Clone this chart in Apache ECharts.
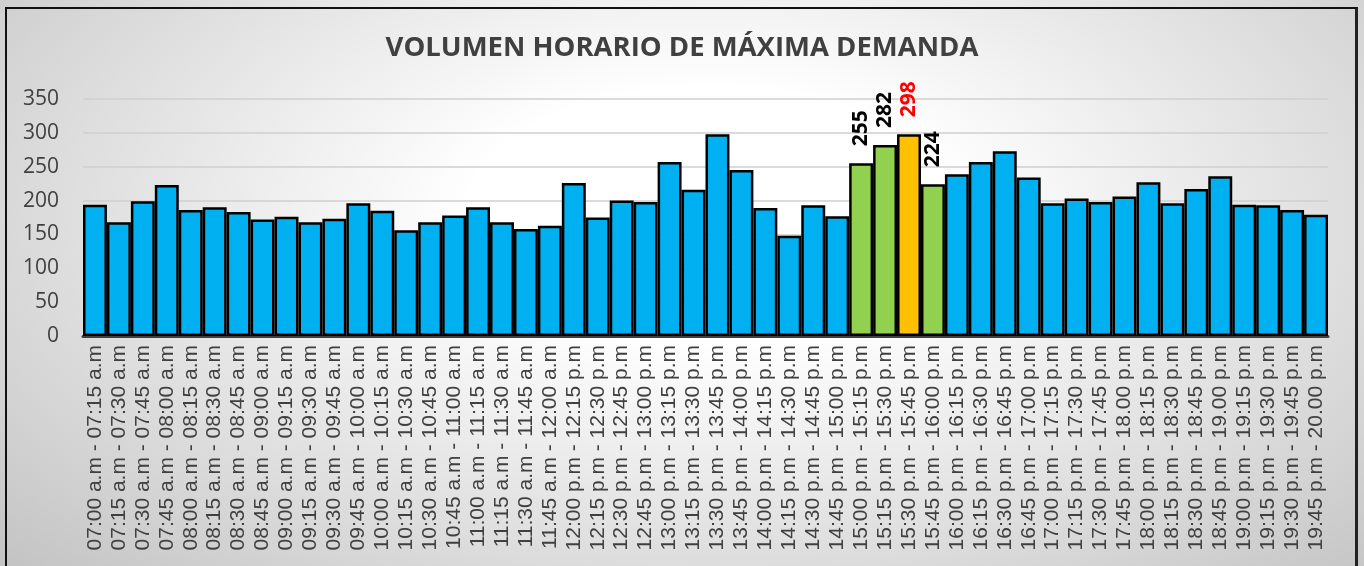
<!DOCTYPE html>
<html>
<head>
<meta charset="utf-8">
<script src="https://cdn.jsdelivr.net/npm/echarts@6/dist/echarts.min.js"></script>
<style>
  html, body { margin: 0; padding: 0; }
  body {
    width: 1364px; height: 566px; overflow: hidden;
    background: radial-gradient(ellipse 70% 90% at 52% 38%, #ffffff 25%, #c4c4c4 100%);
  }
  #frame {
    position: absolute; left: 5px; top: 7px; width: 1348px; height: 600px;
    border: 2px solid #111; border-right: 3px solid #222;
  }
  #main { position: absolute; left: 0; top: 0; width: 1364px; height: 566px; }
</style>
</head>
<body>
<div id="frame"></div>
<div id="main"></div>
<script>
// intervalos de 15 min
var categories = [
  '07:00 a.m - 07:15 a.m', '07:15 a.m - 07:30 a.m', '07:30 a.m - 07:45 a.m', '07:45 a.m - 08:00 a.m',
  '08:00 a.m - 08:15 a.m', '08:15 a.m - 08:30 a.m', '08:30 a.m - 08:45 a.m', '08:45 a.m - 09:00 a.m',
  '09:00 a.m - 09:15 a.m', '09:15 a.m - 09:30 a.m', '09:30 a.m - 09:45 a.m', '09:45 a.m - 10:00 a.m',
  '10:00 a.m - 10:15 a.m', '10:15 a.m - 10:30 a.m', '10:30 a.m - 10:45 a.m', '10:45 a.m - 11:00 a.m',
  '11:00 a.m - 11:15 a.m', '11:15 a.m - 11:30 a.m', '11:30 a.m - 11:45 a.m', '11:45 a.m - 12:00 a.m',
  '12:00 p.m - 12:15 p.m', '12:15 p.m - 12:30 p.m', '12:30 p.m - 12:45 p.m', '12:45 p.m - 13:00 p.m',
  '13:00 p.m - 13:15 p.m', '13:15 p.m - 13:30 p.m', '13:30 p.m - 13:45 p.m', '13:45 p.m - 14:00 p.m',
  '14:00 p.m - 14:15 p.m', '14:15 p.m - 14:30 p.m', '14:30 p.m - 14:45 p.m', '14:45 p.m - 15:00 p.m',
  '15:00 p.m - 15:15 p.m', '15:15 p.m - 15:30 p.m', '15:30 p.m - 15:45 p.m', '15:45 p.m - 16:00 p.m',
  '16:00 p.m - 16:15 p.m', '16:15 p.m - 16:30 p.m', '16:30 p.m - 16:45 p.m', '16:45 p.m - 17:00 p.m',
  '17:00 p.m - 17:15 p.m', '17:15 p.m - 17:30 p.m', '17:30 p.m - 17:45 p.m', '17:45 p.m - 18.00 p.m',
  '18:00 p.m - 18:15 p.m', '18:15 p.m - 18:30 p.m', '18:30 p.m - 18:45 p.m', '18:45 p.m - 19.00 p.m',
  '19:00 p.m - 19:15 p.m', '19:15 p.m - 19:30 p.m', '19:30 p.m - 19:45 p.m', '19:45 p.m - 20.00 p.m'
]
var volumes = [
  194, 168, 199, 223, 186, 190, 183, 172, 176, 168, 173, 196, 185, 156, 168, 178,
  190, 168, 158, 163, 226, 175, 200, 198, 257, 216, 298, 245, 189, 148, 193, 177,
  255, 282, 298, 224, 239, 257, 273, 234, 196, 203, 198, 206, 227, 196, 217, 236,
  194, 193, 186, 179
]
// hora de maxima demanda (4 intervalos) y el pico
var hmdIdx = [32, 33, 34, 35]
var peakIdx = 34
var yTicks = [0, 50, 100, 150, 200, 250, 300, 350]

var data = volumes.map(function (v, i) {
  var item = { value: v }
  if (hmdIdx.indexOf(i) >= 0) {
    item.itemStyle = { color: i === peakIdx ? '#FFC000' : '#92D050' }
    item.label = {
      show: true,
      color: i === peakIdx ? '#FF0000' : '#000000'
    }
  }
  return item
})

var chart = echarts.init(document.getElementById('main'))
chart.setOption({
  backgroundColor: 'transparent',
  animation: false,
  title: {
    text: 'VOLUMEN HORARIO DE MÁXIMA DEMANDA',
    left: 'center',
    top: 29,
    textStyle: {
      fontFamily: 'Open Sans',
      fontWeight: 'bold',
      fontSize: 27.5,
      color: '#404040'
    }
  },
  grid: { left: 83, right: 36, top: 99, bottom: 230 },
  xAxis: {
    type: 'category',
    data: categories,
    axisLine: { lineStyle: { color: '#404040', width: 3 } },
    axisTick: { show: false },
    axisLabel: {
      interval: 0,
      rotate: 90,
      margin: 9,
      fontFamily: 'Liberation Sans',
      fontSize: 21,
      color: '#404040'
    }
  },
  yAxis: {
    type: 'value',
    min: yTicks[0],
    max: yTicks[yTicks.length - 1],
    interval: 50,
    axisLine: { show: false },
    axisTick: { show: false },
    splitLine: { lineStyle: { color: '#cfcfcf', width: 1.5 } },
    axisLabel: {
      margin: 24,
      fontFamily: 'Open Sans',
      fontSize: 21,
      color: '#404040'
    }
  },
  series: [{
    type: 'bar',
    data: data,
    barCategoryGap: '0%',
    itemStyle: {
      color: '#00B0F0',
      borderColor: '#000000',
      borderWidth: 2.5
    },
    label: {
      show: false,
      position: 'top',
      rotate: 90,
      align: 'left',
      verticalAlign: 'middle',
      distance: 17,
      fontFamily: 'Open Sans',
      fontWeight: 'bold',
      fontSize: 21
    }
  }]
})
</script>
</body>
</html>
